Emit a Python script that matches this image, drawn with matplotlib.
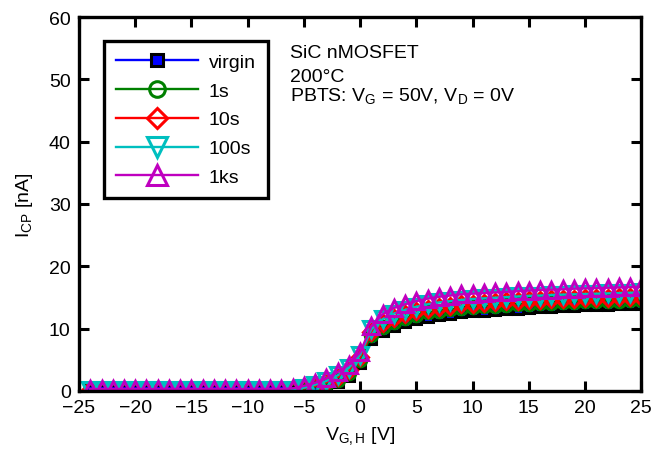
import matplotlib
matplotlib.use("Agg")
import matplotlib.pyplot as plt

plt.rcParams['font.family'] = ['Liberation Sans', 'DejaVu Sans']
plt.rcParams['mathtext.fontset'] = 'custom'
plt.rcParams['mathtext.rm'] = 'Liberation Sans'
plt.rcParams['mathtext.it'] = 'Liberation Sans'

# Gate high level sweep [V]
v_gh = list(range(-24, 26))

# Charge pumping current [nA] after each stress time
i_virgin = [0.1] * 19 + [0.2, 0.4, 0.8, 1.4, 2.4, 4.4,
            8.3, 9.6, 10.4, 11.0, 11.5, 11.9, 12.2, 12.4, 12.6, 12.75,
            12.9, 13.0, 13.1, 13.2, 13.3, 13.4, 13.5, 13.6, 13.7, 13.75,
            13.8, 13.85, 13.9, 13.95, 14.0]
i_1s = [0.15] * 19 + [0.3, 0.6, 1.1, 1.8, 2.9, 5.0,
        9.0, 10.3, 11.1, 11.7, 12.2, 12.6, 12.9, 13.1, 13.3, 13.45,
        13.6, 13.7, 13.8, 13.9, 14.0, 14.1, 14.15, 14.2, 14.3, 14.35,
        14.4, 14.45, 14.5, 14.55, 14.6]
i_10s = [0.2] * 19 + [0.4, 0.8, 1.4, 2.2, 3.3, 5.4,
         9.5, 10.9, 11.7, 12.3, 12.8, 13.2, 13.5, 13.7, 13.9, 14.0,
         14.15, 14.25, 14.35, 14.45, 14.55, 14.6, 14.7, 14.75, 14.8, 14.85,
         14.9, 14.95, 15.0, 15.05, 15.1]
i_100s = [0.2] * 19 + [0.5, 1.0, 1.6, 2.5, 3.7, 5.8,
          9.9, 11.5, 12.4, 13.0, 13.5, 13.9, 14.2, 14.4, 14.6, 14.75,
          14.85, 14.95, 15.05, 15.15, 15.25, 15.3, 15.4, 15.45, 15.5, 15.55,
          15.6, 15.65, 15.7, 15.75, 15.8]
i_1ks = [0.3] * 18 + [0.4, 0.8, 1.3, 2.0, 3.0, 4.2, 6.2,
         10.4, 12.3, 13.3, 13.9, 14.4, 14.8, 15.1, 15.3, 15.5, 15.6,
         15.7, 15.8, 15.9, 16.0, 16.1, 16.2, 16.25, 16.3, 16.4, 16.45,
         16.5, 16.55, 16.6, 16.65, 16.7]

labels = ['virgin', '1s', '10s', '100s', '1ks']
x_ticks = [-25, -20, -15, -10, -5, 0, 5, 10, 15, 20, 25]
y_ticks = [0, 10, 20, 30, 40, 50, 60]
notes = ['SiC nMOSFET', '200°C',
         r'PBTS: $\mathregular{V_G}$ = 50V, $\mathregular{V_D}$ = 0V']

fs = 14

fig = plt.figure(figsize=(6.53, 4.52), dpi=100)
ax = fig.add_axes([0.121, 0.133, 0.861, 0.827])

lw = 1.7
mew = 2.2
ax.plot(v_gh, i_virgin, color=(0, 0, 1), lw=lw, marker='s', ms=7,
        mfc=(0, 0, 1), mec='black', mew=mew, label=labels[0])
ax.plot(v_gh, i_1s, color=(0, 0.5, 0), lw=lw, marker='o', ms=9,
        mfc='none', mec=(0, 0.5, 0), mew=mew, label=labels[1])
ax.plot(v_gh, i_10s, color=(1, 0, 0), lw=lw, marker='D', ms=8,
        mfc='none', mec=(1, 0, 0), mew=mew, label=labels[2])
ax.plot(v_gh, i_100s, color=(0, 0.75, 0.75), lw=lw, marker='v', ms=11,
        mfc='none', mec=(0, 0.75, 0.75), mew=mew, label=labels[3])
ax.plot(v_gh, i_1ks, color=(0.75, 0, 0.75), lw=lw, marker='^', ms=11,
        mfc='none', mec=(0.75, 0, 0.75), mew=mew, label=labels[4])

ax.set_xlim(-25, 25)
ax.set_ylim(0, 60)
ax.set_xticks(x_ticks)
ax.set_yticks(y_ticks)
ax.tick_params(direction='in', length=7, width=2.2, labelsize=fs,
               top=True, right=True, pad=6)
for s in ax.spines.values():
    s.set_linewidth(2.4)
    s.set_color('black')

ax.set_xlabel(r'$\mathregular{V_{G,H}}$ [V]', fontsize=fs, labelpad=6)
ax.set_ylabel(r'$\mathregular{I_{CP}}$ [nA]', fontsize=fs, labelpad=10)

leg = ax.legend(loc='upper left', bbox_to_anchor=(0.0445, 0.936),
                borderaxespad=0, fontsize=fs, handlelength=4.2,
                markerscale=1.25, labelspacing=0.58, borderpad=0.62,
                handletextpad=0.55, fancybox=False, framealpha=1,
                edgecolor='black')
leg.get_frame().set_linewidth(2.4)

# annotation block, one line per text, baseline-aligned
for txt, yb in zip(notes, [0.893, 0.829, 0.778]):
    ax.text(0.375, yb, txt, transform=ax.transAxes, fontsize=fs,
            va='baseline', ha='left')

fig.savefig('out.png', dpi=100)
